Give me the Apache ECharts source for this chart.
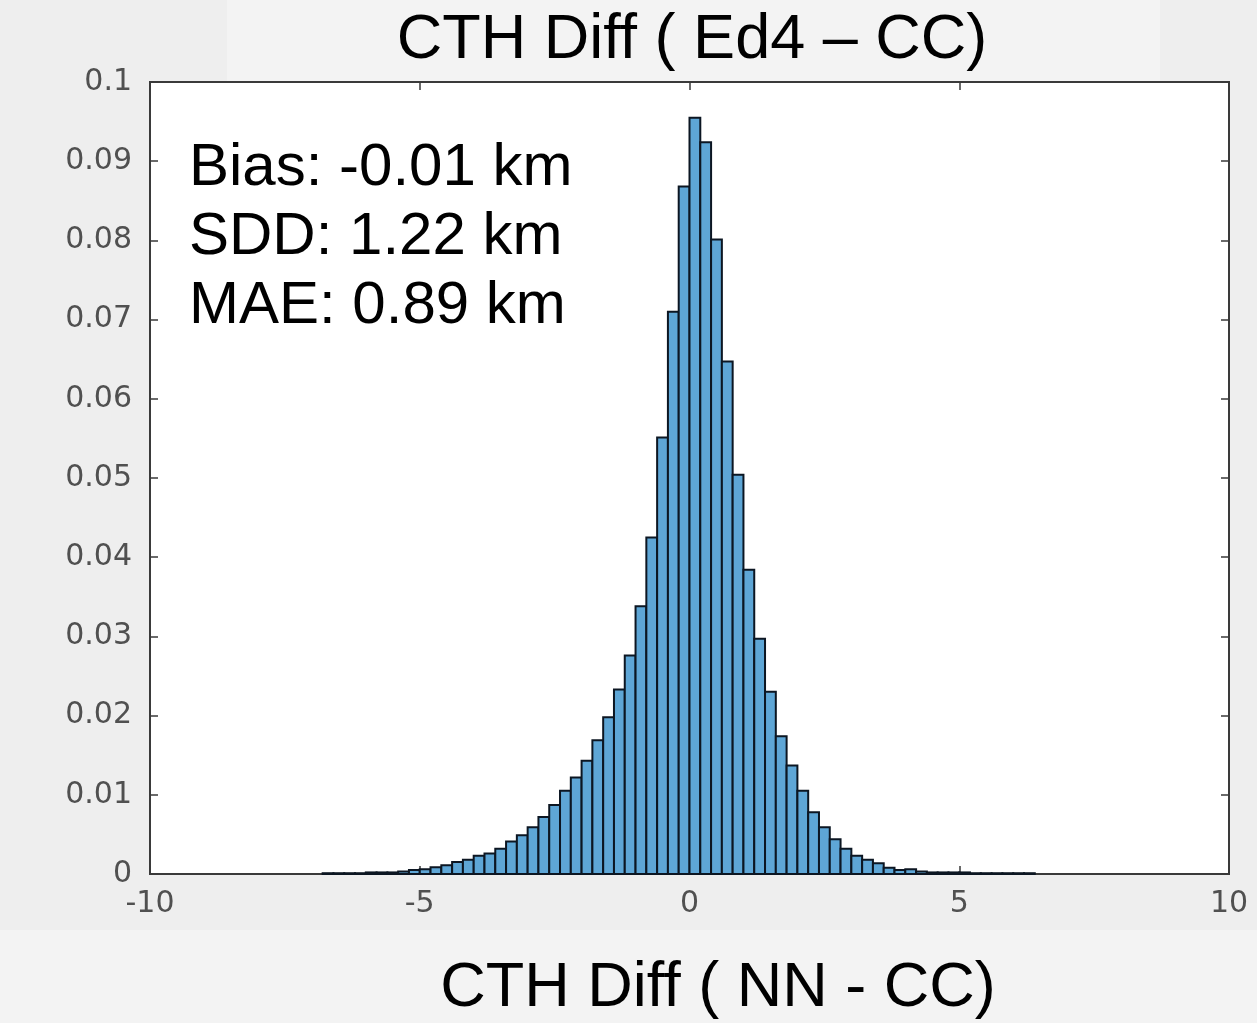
<!DOCTYPE html>
<html>
<head>
<meta charset="utf-8">
<script src="https://cdn.jsdelivr.net/npm/echarts@6/dist/echarts.min.js"></script>
<style>
  html, body { margin: 0; padding: 0; background: #eeeeee; }
  #chart { width: 1257px; height: 1023px; }
</style>
</head>
<body>
<div id="chart"></div>
<script>
// ---- Data ----
const titleText = 'CTH Diff ( Ed4 \u2013 CC)';
const xLabelText = 'CTH Diff ( NN - CC)';
const statLines = ['Bias: -0.01 km', 'SDD: 1.22 km', 'MAE: 0.89 km'];

const binWidth = 0.2;
const binLeft = [
  -6.8, -6.6, -6.4, -6.2, -6.0, -5.8, -5.6, -5.4,
  -5.2, -5.0, -4.8, -4.6, -4.4, -4.2, -4.0, -3.8, -3.6, -3.4, -3.2, -3.0,
  -2.8, -2.6, -2.4, -2.2, -2.0, -1.8, -1.6, -1.4, -1.2, -1.0,
  -0.8, -0.6, -0.4, -0.2, 0.0, 0.2, 0.4, 0.6, 0.8, 1.0,
  1.2, 1.4, 1.6, 1.8, 2.0, 2.2, 2.4, 2.6, 2.8, 3.0,
  3.2, 3.4, 3.6, 3.8, 4.0, 4.2, 4.4, 4.6, 4.8, 5.0,
  5.2, 5.4, 5.6, 5.8, 6.0, 6.2
];
const probability = [
  0.0001, 0.0001, 0.0001, 0.0001, 0.0002, 0.0002, 0.0002, 0.0003,
  0.0005, 0.0006, 0.00085, 0.0011, 0.0015, 0.0018, 0.0023, 0.0026, 0.0032, 0.0041, 0.0049, 0.0059,
  0.0072, 0.0087, 0.0105, 0.0122, 0.0143, 0.0169, 0.0198, 0.0233, 0.0276, 0.0338,
  0.0425, 0.0551, 0.0710, 0.0868, 0.0955, 0.0924, 0.0801, 0.0647, 0.0504, 0.0384,
  0.0297, 0.0230, 0.0174, 0.0137, 0.0105, 0.0078, 0.0059, 0.0044, 0.0032, 0.0023,
  0.0018, 0.00135, 0.0008, 0.0005, 0.0006, 0.0003, 0.0002, 0.0002, 0.0002, 0.0002,
  0.0001, 0.0001, 0.0001, 0.0001, 0.0001, 0.0001
];

const xMin = -10, xMax = 10, xStep = 5;
const yMin = 0, yMax = 0.1, yStep = 0.01;

// ---- Build ----
const histData = binLeft.map((l, i) => [l, l + binWidth, probability[i]]);

const frameColor = '#3a3a3a';
const labelStyle = { color: '#505050', fontFamily: 'DejaVu Sans', fontSize: 30 };

const chart = echarts.init(document.getElementById('chart'), null, { renderer: 'canvas' });

const option = {
  backgroundColor: '#eeeeee',
  animation: false,
  grid: {
    left: 150, right: 28, top: 82, bottom: 149,
    show: true, backgroundColor: '#ffffff', borderColor: frameColor, borderWidth: 2
  },
  xAxis: [
    {
      type: 'value', min: xMin, max: xMax, interval: xStep, position: 'bottom',
      axisLine: { show: true, onZero: false, lineStyle: { color: frameColor, width: 2 } },
      axisTick: { show: true, inside: true, length: 8, lineStyle: { color: frameColor, width: 1.5 } },
      axisLabel: Object.assign({ margin: 15 }, labelStyle),
      splitLine: { show: false }
    },
    {
      type: 'value', min: xMin, max: xMax, interval: xStep, position: 'top',
      axisLine: { show: true, onZero: false, lineStyle: { color: frameColor, width: 2 } },
      axisTick: { show: true, inside: true, length: 8, lineStyle: { color: frameColor, width: 1.5 } },
      axisLabel: { show: false },
      splitLine: { show: false }
    }
  ],
  yAxis: [
    {
      type: 'value', min: yMin, max: yMax, interval: yStep, position: 'left',
      axisLine: { show: true, onZero: false, lineStyle: { color: frameColor, width: 2 } },
      axisTick: { show: true, inside: true, length: 8, lineStyle: { color: frameColor, width: 1.5 } },
      axisLabel: Object.assign({ margin: 18, formatter: v => String(+v.toFixed(2)) }, labelStyle),
      splitLine: { show: false }
    },
    {
      type: 'value', min: yMin, max: yMax, interval: yStep, position: 'right',
      axisLine: { show: true, onZero: false, lineStyle: { color: frameColor, width: 2 } },
      axisTick: { show: true, inside: true, length: 8, lineStyle: { color: frameColor, width: 1.5 } },
      axisLabel: { show: false },
      splitLine: { show: false }
    }
  ],
  series: [
    {
      type: 'custom',
      xAxisIndex: 0,
      yAxisIndex: 0,
      data: histData,
      encode: { x: [0, 1], y: 2 },
      renderItem: function (params, api) {
        const p0 = api.coord([api.value(0), api.value(2)]);
        const p1 = api.coord([api.value(1), 0]);
        return {
          type: 'rect',
          shape: { x: p0[0], y: p0[1], width: p1[0] - p0[0], height: p1[1] - p0[1] },
          style: { fill: '#5ea6d6', stroke: '#0c1622', lineWidth: 2 }
        };
      }
    }
  ],
  graphic: [
    { type: 'rect', z: -10, silent: true, shape: { x: 227, y: 0, width: 933, height: 81 }, style: { fill: '#f3f3f3' } },
    { type: 'rect', z: -10, silent: true, shape: { x: 0, y: 930, width: 1257, height: 93 }, style: { fill: '#f3f3f3' } },
    {
      type: 'text', z: 100, style: {
        text: titleText, x: 692, y: 41, textAlign: 'center', textVerticalAlign: 'middle',
        font: '63px "Liberation Sans", Arial, sans-serif', fill: '#000000'
      }
    },
    {
      type: 'text', z: 100, style: {
        text: xLabelText, x: 718, y: 989, textAlign: 'center', textVerticalAlign: 'middle',
        font: '63px "Liberation Sans", Arial, sans-serif', fill: '#000000'
      }
    },
    {
      type: 'text', z: 100, style: {
        text: statLines[0], x: 189, y: 168, textAlign: 'left', textVerticalAlign: 'middle',
        font: '60px "Liberation Sans", Arial, sans-serif', fill: '#000000'
      }
    },
    {
      type: 'text', z: 100, style: {
        text: statLines[1], x: 189, y: 237, textAlign: 'left', textVerticalAlign: 'middle',
        font: '60px "Liberation Sans", Arial, sans-serif', fill: '#000000'
      }
    },
    {
      type: 'text', z: 100, style: {
        text: statLines[2], x: 189, y: 306, textAlign: 'left', textVerticalAlign: 'middle',
        font: '60px "Liberation Sans", Arial, sans-serif', fill: '#000000'
      }
    }
  ]
};

chart.setOption(option);
</script>
</body>
</html>
